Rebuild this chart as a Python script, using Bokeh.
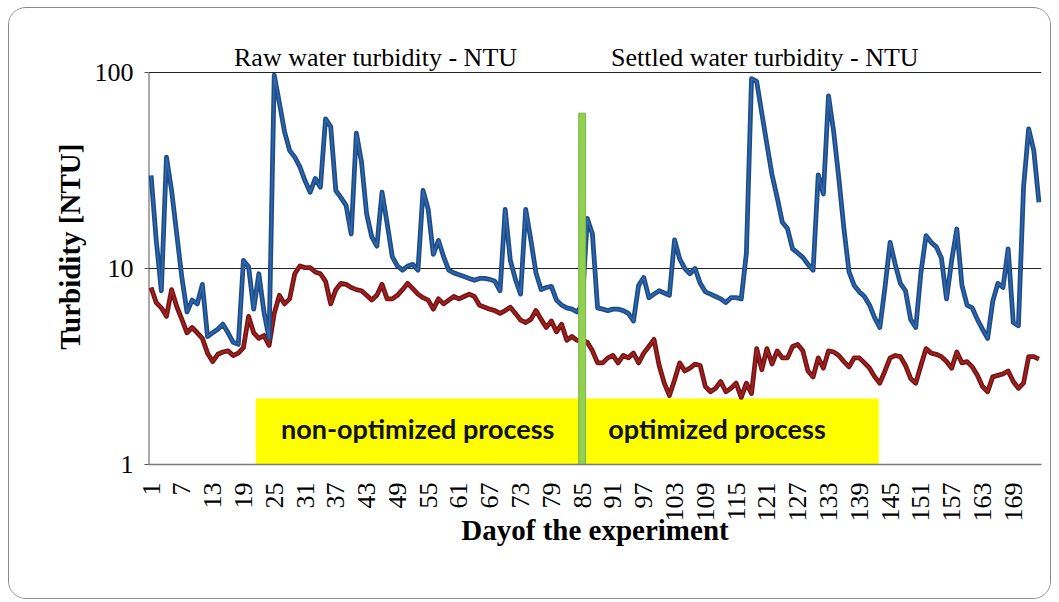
import math
from bokeh.plotting import figure
from bokeh.models import (Range1d, FixedTicker, PrintfTickFormatter, BoxAnnotation, Label,
                          ColumnDataSource)
from bokeh.embed import file_html
from bokeh.resources import INLINE

# ---------------- data ----------------
days = list(range(1, 175))
raw_ntu = [
    29.8, 14, 7.7, 37, 25, 15, 9, 6.0, 6.9, 6.6,
    8.3, 4.5, 4.7, 4.9, 5.2, 4.7, 4.2, 4.1, 11, 10.2,
    6.2, 9.4, 6, 4.4, 97, 70, 50, 40, 37, 33,
    28, 24.5, 28.8, 26, 58, 53, 25, 23, 21, 15,
    49, 35, 19, 14.5, 13, 24.5, 17, 11.5, 10.3, 9.8,
    10.3, 10.5, 9.8, 25, 20, 11.8, 13.9, 11.5, 9.8, 9.5,
    9.3, 9.1, 8.9, 8.7, 8.9, 8.9, 8.8, 8.6, 7.7, 20,
    11, 8.8, 7.4, 20, 14, 9.5, 7.8, 8.0, 8.1, 6.9,
    6.5, 6.3, 6.2, 6.0, 6.5, 18, 15, 6.3, 6.2, 6.1,
    6.2, 6.2, 6.1, 5.9, 5.4, 8.2, 9.0, 7.1, 7.4, 7.7,
    7.5, 7.3, 14.0, 11.2, 10.0, 9.4, 10, 8.4, 7.6, 7.4,
    7.2, 7.0, 6.7, 7.1, 7.1, 7.0, 12, 93, 90, 62,
    43, 30, 23, 17.2, 16, 12.6, 12, 11.4, 10.5, 9.8,
    30, 24, 76, 50, 29, 16, 9.6, 8.2, 7.6, 7.2,
    6.5, 5.6, 5.0, 8, 13.6, 10.5, 8.4, 7.7, 5.5, 5.0,
    9.5, 14.7, 13.6, 12.9, 11.3, 7.0, 11, 15.9, 8.2, 6.5,
    6.3, 5.5, 4.9, 4.4, 6.8, 8.4, 8.0, 12.6, 5.3, 5.1,
    26, 51.6, 40, 21.8,
]
settled_ntu = [
    8.0, 6.7, 6.3, 5.7, 7.8, 6.4, 5.5, 4.7, 5.0, 4.7,
    4.4, 3.7, 3.35, 3.65, 3.75, 3.8, 3.6, 3.7, 3.95, 5.7,
    4.7, 4.4, 4.55, 4.05, 5.9, 7.3, 6.6, 7.0, 9.4, 10.3,
    10.1, 10.1, 9.6, 9.4, 8.6, 6.6, 7.8, 8.4, 8.3, 8.0,
    7.8, 7.7, 7.3, 6.9, 7.3, 8.3, 7.0, 7.0, 7.3, 7.8,
    8.4, 7.9, 7.4, 7.1, 6.9, 6.2, 7.0, 6.6, 6.9, 7.2,
    7.0, 7.2, 7.4, 7.2, 6.5, 6.35, 6.2, 6.1, 5.9, 6.1,
    6.35, 5.9, 5.45, 5.3, 5.5, 6.1, 5.5, 5.0, 5.4, 4.75,
    5.2, 4.3, 4.5, 4.3, 4.3, 4.2, 3.8, 3.3, 3.3, 3.5,
    3.6, 3.3, 3.6, 3.5, 3.7, 3.3, 3.7, 4.0, 4.35, 3.2,
    2.6, 2.25, 2.7, 3.3, 3.0, 3.1, 3.25, 3.2, 2.5, 2.35,
    2.45, 2.65, 2.35, 2.45, 2.6, 2.2, 2.6, 2.3, 3.9, 3.05,
    3.9, 3.26, 3.8, 3.5, 3.5, 4.0, 4.1, 3.8, 3.0, 2.8,
    3.5, 3.1, 3.8, 3.75, 3.6, 3.35, 3.15, 3.5, 3.5, 3.3,
    3.1, 2.8, 2.6, 3.0, 3.5, 3.6, 3.55, 3.2, 2.75, 2.6,
    3.2, 3.9, 3.7, 3.65, 3.55, 3.35, 3.1, 3.75, 3.3, 3.35,
    3.15, 2.85, 2.5, 2.35, 2.8, 2.85, 2.9, 3.0, 2.65, 2.45,
    2.6, 3.55, 3.55, 3.45,
]
tick_days = list(range(1, 170, 6))
y_ticks = [1, 10, 100]
series_names = ["Raw water turbidity - NTU", "Settled water turbidity - NTU"]
phase_names = ["non-optimized process", "optimized process"]
switch_day = 85
phase_ranges = [(21.4, 84.5), (85.8, 142.8)]

# ---------------- figure ----------------
SERIF = "Liberation Serif"
# frame extends above the 100 line so that the series titles can sit inside it
y_top = 100 * 10 ** (51 / 196)
p = figure(width=1043, height=592,
           x_range=Range1d(0.5, 174.5), y_range=Range1d(1, y_top),
           y_axis_type="log", output_backend="svg", toolbar_location=None,
           min_border_left=139, min_border_right=11,
           min_border_top=13, min_border_bottom=136)
p.styles = {"border": "1px solid #8a8a8a", "border-radius": "18px", "overflow": "hidden",
            "margin-left": "8px", "margin-top": "7px"}
p.outline_line_color = None
p.background_fill_color = "white"
p.border_fill_color = "white"

# grid
p.xgrid.visible = False
p.ygrid.ticker = FixedTicker(ticks=[10, 100], minor_ticks=[])
p.ygrid.grid_line_color = "#222222"
p.ygrid.grid_line_width = 1

# axes
xa = p.xaxis[0]
xa.ticker = FixedTicker(ticks=tick_days, minor_ticks=[])
xa.formatter = PrintfTickFormatter(format="%d")
xa.major_label_orientation = math.pi / 2
xa.major_label_text_font = SERIF
xa.major_label_text_font_size = "26px"
xa.major_label_text_color = "black"
xa.major_label_standoff = 12
xa.major_tick_line_color = None
xa.minor_tick_line_color = None
xa.axis_line_color = "#7a7a7a"
xa.axis_line_width = 1.5
xa.axis_label = "Dayof the experiment"
xa.axis_label_text_font = SERIF
xa.axis_label_text_font_style = "bold"
xa.axis_label_text_font_size = "29px"
xa.axis_label_text_color = "black"
xa.axis_label_standoff = -11

ya = p.yaxis[0]
ya.ticker = FixedTicker(ticks=y_ticks, minor_ticks=[])
ya.formatter = PrintfTickFormatter(format="%d")
ya.major_label_text_font = SERIF
ya.major_label_text_font_size = "26px"
ya.major_label_text_color = "black"
ya.major_label_standoff = 11
ya.major_tick_out = 4
ya.major_tick_in = 0
ya.major_tick_line_color = "#555555"
ya.minor_tick_line_color = None
ya.axis_line_color = None
ya.axis_label = "Turbidity  [NTU]"
ya.axis_label_text_font = SERIF
ya.axis_label_text_font_style = "bold"
ya.axis_label_text_font_size = "29px"
ya.axis_label_text_color = "black"
ya.axis_label_standoff = 6

# y axis line only between 1 and 100
p.segment(x0=[0.5], y0=[1], x1=[0.5], y1=[100], line_color="#555555", line_width=2)

# phase boxes
for (l, r) in phase_ranges:
    p.add_layout(BoxAnnotation(left=l, right=r, bottom=1.0, top=2.17,
                               fill_color="#FFFF00", fill_alpha=1.0,
                               line_color=None, level="underlay"))

src = ColumnDataSource(dict(day=days, raw=raw_ntu, settled=settled_ntu))

# series lines (dark edge + lighter core)
p.line("day", "settled", source=src, line_color="#7A1212", line_width=4.8, line_join="round")
p.line("day", "settled", source=src, line_color="#A52A2A", line_width=1.6, line_join="round", line_alpha=0.8)
p.line("day", "raw", source=src, line_color="#1B4C8A", line_width=4.8, line_join="round")
p.line("day", "raw", source=src, line_color="#3A6EB0", line_width=1.6, line_join="round", line_alpha=0.8)

# divider between processes
p.vbar(x=[switch_day], width=1.35, bottom=0.977, top=62,
       fill_color="#92D050", line_color="#79B443", line_width=1)

# phase labels
p.add_layout(Label(x=(phase_ranges[0][0] + phase_ranges[0][1]) / 2, y=36, x_units="data", y_units="screen",
                   text=phase_names[0], text_font="Lato", text_font_style="bold",
                   text_font_size="27px", text_color="#111111",
                   text_align="center", text_baseline="middle"))
p.add_layout(Label(x=90.1, y=36, x_units="data", y_units="screen",
                   text=phase_names[1], text_font="Lato", text_font_style="bold",
                   text_font_size="27px", text_color="#111111",
                   text_align="left", text_baseline="middle"))

# series titles above the 100 line
p.add_layout(Label(x=85.5, y=407, x_units="screen", y_units="screen",
                   text=series_names[0], text_font=SERIF, text_font_size="26px",
                   text_color="black", text_baseline="alphabetic"))
p.add_layout(Label(x=462.5, y=407, x_units="screen", y_units="screen",
                   text=series_names[1], text_font=SERIF, text_font_size="26px",
                   text_color="black", text_baseline="alphabetic"))

open("out.html", "w").write(file_html(p, INLINE))
